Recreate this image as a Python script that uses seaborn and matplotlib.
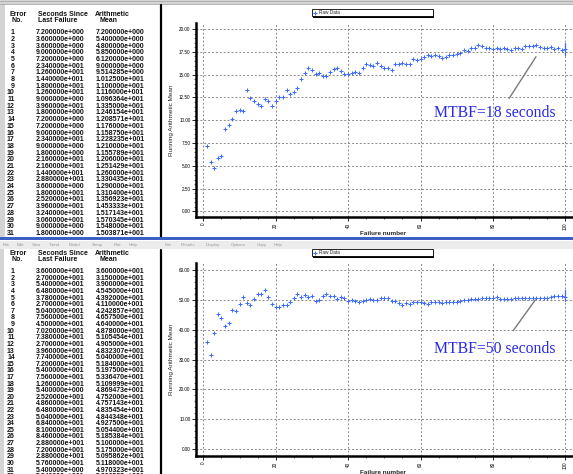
import numpy as np
import pandas as pd
import seaborn as sns
import matplotlib.pyplot as plt
from matplotlib.patches import Rectangle
from matplotlib.lines import Line2D

# ---------------- data ----------------
failure_no = list(range(1, 101))

# top run: seconds since last failure (table, first 32 rows)
top_seconds = [7.2, 3.6, 3.6, 9.0, 7.2, 23.4, 12.6, 14.4, 18.0, 12.6,
               9.0, 39.6, 1.8, 7.2, 7.2, 9.0, 23.4, 9.0, 1.8, 21.6,
               21.6, 14.4, 28.8, 3.6, 18.0, 25.2, 39.6, 32.4, 30.6, 9.0,
               1.8, 19.8]
# top run: running arithmetic mean (100 failures)
top_mean = [7.2, 5.4, 4.8, 5.85, 6.12, 9.0, 9.514285, 10.125, 11.0, 11.16,
            10.96364, 13.35, 12.46154, 12.08571, 11.76, 11.5875, 12.28235, 12.1, 11.55789, 12.06,
            12.51429, 12.6, 13.30435, 12.9, 13.104, 13.56923, 14.53333, 15.17143, 15.70345, 15.48,
            15.03871, 15.1875, 14.85, 14.85, 15.32, 15.65, 15.68, 15.43, 15.07, 15.04,
            15.21, 15.28, 15.21, 15.72, 16.13, 16.02, 15.98, 16.24, 15.98, 15.68,
            15.68, 15.50, 16.20, 16.17, 16.27, 16.20, 16.20, 16.68, 16.57, 16.68,
            16.90, 17.19, 17.01, 17.12, 17.01, 16.80, 16.90, 17.12, 17.19, 17.23,
            17.40, 17.70, 17.63, 17.88, 17.88, 18.25, 18.10, 17.96, 17.96, 17.80,
            17.96, 17.80, 17.88, 17.85, 17.66, 17.88, 17.88, 17.85, 18.17, 18.17,
            18.17, 18.25, 18.00, 17.96, 17.96, 18.00, 17.77, 17.88, 17.73, 17.77]

# bottom run
bot_seconds = [36.0, 27.0, 54.0, 64.8, 37.8, 27.0, 50.4, 75.6, 45.0, 70.2,
               73.8, 27.0, 39.6, 77.4, 72.0, 54.0, 75.6, 12.6, 5.4, 25.2,
               48.6, 64.8, 50.4, 68.4, 81.0, 84.6, 28.8, 72.0, 28.8, 57.6,
               5.4, 59.4]
bot_mean = [36.0, 31.5, 39.0, 45.45, 43.92, 41.1, 42.42857, 46.575, 46.4, 48.78,
            51.05454, 49.05, 48.32307, 50.4, 51.84, 51.975, 53.3647, 51.09999, 48.69473, 47.52,
            47.57143, 48.35454, 48.44348, 49.275, 50.544, 51.85384, 51.0, 51.75, 50.95862, 51.18,
            49.70323, 50.00525, 51.4, 51.9, 51.4, 51.3, 50.2, 50.9, 50.6, 49.6,
            50.0, 49.7, 49.2, 49.6, 50.0, 50.2, 50.1, 50.0, 50.6, 50.6,
            50.6, 49.7, 49.6, 49.0, 48.4, 48.9, 48.8, 49.3, 49.2, 49.3,
            49.1, 48.8, 49.2, 49.2, 49.2, 49.1, 49.4, 49.4, 49.4, 49.4,
            49.8, 49.9, 50.0, 50.2, 50.4, 50.4, 50.7, 50.7, 50.7, 50.7,
            50.9, 50.3, 50.2, 50.2, 50.3, 50.6, 50.8, 50.8, 50.8, 50.7,
            50.7, 50.6, 50.6, 50.7, 50.7, 50.9, 51.4, 51.4, 51.4, 51.1]

top_end_bar = [17.15, 18.45]
bot_end_bar = [49.8, 53.5]

x_ticks = [0, 20, 40, 60, 80, 100]
top_yticks = [0, 2.5, 5, 7.5, 10, 12.5, 15, 17.5, 20]
bot_yticks = [0, 10, 20, 30, 40, 50, 60]

top_note = "MTBF=18 seconds"
bot_note = "MTBF=50 seconds"
menu_left = ["File", "Edit", "View", "Trend", "Model", "Setup", "Plot", "Help"]
menu_left_x = [3, 17, 32, 49, 69, 92, 114, 129]
menu_right = ["File", "Results", "Display", "Options", "Copy", "Help"]
menu_right_x = [165, 181, 206, 231, 257, 274]

# ---------------- figure ----------------
sns.set_theme(style="white")
plt.rcParams['font.family'] = ['Liberation Sans', 'DejaVu Sans']

W, H = 573, 474
fig = plt.figure(figsize=(W / 100, H / 100), dpi=100)
fig.patch.set_facecolor('white')


def fx(px):
    return px / W


def fy(py):
    return 1 - py / H


def sci(v):
    e = int(np.floor(np.log10(abs(v))))
    m = v / 10 ** e
    s = f"{m:.7f}"[:8]
    return f"{s}e{'+' if e >= 0 else '-'}{abs(e):03d}"


# ---- window chrome (figure level) ----
fig.patches.append(Rectangle((0, fy(4)), 1, 4 / H, transform=fig.transFigure,
                             facecolor='#d4d4d4', edgecolor='none', zorder=0))
fig.lines.append(Line2D([0, 1], [fy(1.2), fy(1.2)], transform=fig.transFigure,
                        color='#a8a8a8', lw=0.6))
fig.lines.append(Line2D([0, 1], [fy(3.5), fy(3.5)], transform=fig.transFigure,
                        color='#a8a8a8', lw=0.6))
fig.patches.append(Rectangle((0, fy(240.5)), 1, 3 / H, transform=fig.transFigure,
                             facecolor='#3c5fc8', edgecolor='none', zorder=5))
fig.patches.append(Rectangle((0, fy(249)), 1, 8.5 / H, transform=fig.transFigure,
                             facecolor='#ececec', edgecolor='none', zorder=5))
fig.patches.append(Rectangle((0, fy(237)), fx(5), 233 / H, transform=fig.transFigure,
                             facecolor='#d4d4d4', edgecolor='none', zorder=0))
fig.patches.append(Rectangle((0, fy(474)), fx(4), 225 / H, transform=fig.transFigure,
                             facecolor='#d4d4d4', edgecolor='none', zorder=0))
fig.lines.append(Line2D([fx(161), fx(161)], [fy(5), fy(237)], transform=fig.transFigure,
                        color='black', lw=1.6))
fig.lines.append(Line2D([fx(161), fx(161)], [fy(250), fy(474)], transform=fig.transFigure,
                        color='black', lw=1.6))
for w, xm in zip(menu_left + menu_right, menu_left_x + menu_right_x):
    fig.text(fx(xm), fy(245.3), w, fontsize=3.2, color='#9a9a9a', va='center',
             ha='left', zorder=6)


# ---- tables ----
def draw_table(y0, y1, hdr1, hdr2, row0, dy, secs, means):
    tax = fig.add_axes([fx(5), fy(y1), fx(156), (y1 - y0) / H])
    tax.set_xlim(5, 161)
    tax.set_ylim(y1, y0)
    tax.axis('off')
    kw = dict(fontsize=5.0, fontweight='bold', color='#111111', va='center', clip_on=True)
    tax.text(9, hdr1, "Error", ha='left', **kw)
    tax.text(11, hdr2, "No.", ha='left', **kw)
    tax.text(38, hdr1, "Seconds Since", ha='left', **kw)
    tax.text(38, hdr2, "Last Failure", ha='left', **kw)
    tax.text(95, hdr1, "Arithmetic", ha='left', **kw)
    tax.text(100, hdr2, "Mean", ha='left', **kw)
    for i, (s, m) in enumerate(zip(secs, means)):
        yy = row0 + i * dy
        tax.text(14.8, yy, str(i + 1), ha='right', **kw)
        tax.text(36, yy, sci(s), ha='left', **kw)
        tax.text(96, yy, sci(m), ha='left', **kw)


draw_table(5, 238.5, 14, 20, 32.7, 6.69, top_seconds, top_mean[:32])
draw_table(249, 474, 253.5, 259.5, 271.7, 6.61, bot_seconds, bot_mean[:32])


# ---- charts ----
def px_to_data(px, x0=203.3, ppu=3.62):
    return (px - x0) / ppu


def draw_chart(top_px, bot_px, y_at_bot, y_at_top, means, yticks, end_bar,
               note, note_y, line_pts, legend_py):
    ax = fig.add_axes([fx(196), fy(bot_px), fx(W - 196), (bot_px - top_px) / H])
    df = pd.DataFrame({"Failure number": failure_no, "Running Arithmetic Mean": means})
    sns.scatterplot(data=df, x="Failure number", y="Running Arithmetic Mean", ax=ax,
                    marker='+', color='#3d6cff', s=8, linewidth=0.75, label='Raw Data',
                    zorder=3)
    ax.plot([failure_no[-1]] * 2, end_bar, color='#3d6cff', lw=0.9, zorder=3)
    ax.set_xlim(px_to_data(196), px_to_data(W))
    ax.set_ylim(y_at_bot, y_at_top)
    ax.set_xticks(x_ticks)
    ax.set_yticks(yticks)
    ax.set_xticks(np.arange(0, 101, 5), minor=True)
    step = yticks[1] - yticks[0]
    ax.set_yticks(np.arange(0, yticks[-1] + 0.01, step / 5), minor=True)
    ax.set_xticklabels([str(t) for t in x_ticks], rotation=90)
    ax.set_yticklabels([f"{t:.2f}" for t in yticks])
    ax.tick_params(axis='both', which='major', length=3, width=0.6, labelsize=3.3,
                   pad=1, colors='black', direction='out', left=True, bottom=True)
    ax.tick_params(axis='both', which='minor', length=1.5, width=0.5, direction='out',
                   left=True, bottom=True)
    ax.grid(True, which='major', linestyle=(0, (2, 2)), color='#8a8a8a', lw=0.7)
    for sp in ['top', 'right']:
        ax.spines[sp].set_visible(False)
    for sp in ['left', 'bottom']:
        ax.spines[sp].set_linewidth(1.8)
        ax.spines[sp].set_color('black')
    ax.set_xlabel("Failure number", fontsize=4.6, fontweight='bold')
    ax.set_ylabel("Running Arithmetic Mean", fontsize=4.6)
    ax.xaxis.set_label_coords((383 - 196) / (W - 196), -14 / (bot_px - top_px))
    ax.yaxis.set_label_coords(-22 / (W - 196), 0.5)
    ax.plot(line_pts[0], line_pts[1], color='#7a7a7a', lw=1.0, zorder=4)
    ax.text(63.7, note_y, note, fontsize=11.3, color='#2a2ae6',
            family=['Liberation Serif', 'DejaVu Serif'], va='center', ha='left', zorder=5)
    # legend box with a thin drop shadow
    ax.add_patch(Rectangle((fx(313.2), fy(legend_py + 8.5)), fx(121), 7 / H,
                           transform=fig.transFigure, facecolor='black',
                           edgecolor='none', zorder=6, clip_on=False))
    ax.add_patch(Rectangle((fx(311.7), fy(legend_py + 7)), fx(121), 7 / H,
                           transform=fig.transFigure, facecolor='white',
                           edgecolor='black', lw=0.6, zorder=7, clip_on=False))
    leg = ax.legend(loc='center left',
                    bbox_to_anchor=(fx(313), fy(legend_py + 7), fx(110), 7 / H),
                    bbox_transform=fig.transFigure, fontsize=3.4, frameon=False,
                    borderpad=0, handlelength=0.8, handletextpad=0.5,
                    borderaxespad=0, markerscale=0.8)
    leg.set_zorder(8)
    return ax


draw_chart(23, 217, -0.61, 20.66, top_mean, top_yticks, top_end_bar,
           top_note, 10.79, ([84.5, 91.9], [12.4, 16.96]), 9.3)
draw_chart(263, 456, -2.35, 62.4, bot_mean, bot_yticks, bot_end_bar,
           bot_note, 33.6, ([85.6, 91.7], [39.7, 50.0]), 249.3)

fig.savefig("out.png", dpi=100)
